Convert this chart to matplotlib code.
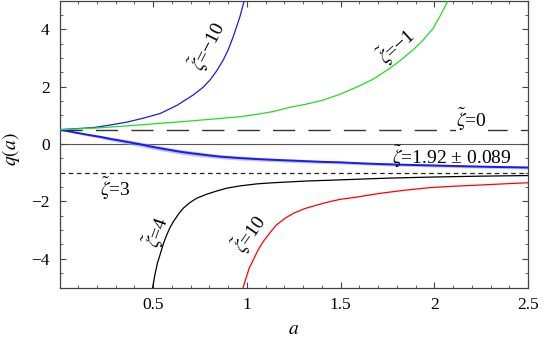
import numpy as np
import matplotlib
matplotlib.use("Agg")
import matplotlib.pyplot as plt
from matplotlib import font_manager as fm

_names = {f.name for f in fm.fontManager.ttflist}
_serif = [n for n in ['Liberation Serif', 'Tinos', 'Times New Roman', 'Nimbus Roman', 'DejaVu Serif'] if n in _names]
plt.rcParams['font.family'] = 'serif'
plt.rcParams['font.serif'] = _serif + ['DejaVu Serif']
plt.rcParams['mathtext.fontset'] = 'stix'
plt.rcParams['lines.scale_dashes'] = False

# ---- data ----
a_m10 = [0.0, 0.18, 0.269, 0.358, 0.447, 0.536, 0.625, 0.714, 0.767, 0.803, 0.838, 0.874, 0.900, 0.927, 0.945, 0.963, 0.986]
q_m10 = [0.5, 0.57, 0.66, 0.76, 0.90, 1.06, 1.34, 1.71, 1.98, 2.23, 2.54, 2.93, 3.28, 3.74, 4.09, 4.44, 5.0]

a_m1 = [0.0, 0.18, 0.358, 0.536, 0.714, 0.892, 0.963, 1.052, 1.140, 1.229, 1.318, 1.407, 1.496, 1.585,
        1.674, 1.763, 1.816, 1.887, 1.940, 1.994, 2.029, 2.074]
q_m1 = [0.5, 0.55, 0.63, 0.72, 0.81, 0.91, 0.95, 1.03, 1.13, 1.28, 1.39, 1.53, 1.73, 1.98,
        2.26, 2.64, 2.90, 3.28, 3.62, 4.03, 4.44, 5.0]

a_fit = [0.0, 0.05, 0.1, 0.16, 0.216, 0.27, 0.33, 0.38, 0.43, 0.48, 0.53, 0.59, 0.643, 0.7, 0.75, 0.8,
         0.856, 0.96, 1.069, 1.17, 1.283, 1.39, 1.496, 1.63, 1.763, 1.88, 2.0, 2.25, 2.5]
q_fit = [0.5, 0.44, 0.38, 0.31, 0.25, 0.18, 0.11, 0.05, -0.01, -0.08, -0.14, -0.21, -0.27, -0.32, -0.36, -0.40,
         -0.44, -0.49, -0.53, -0.56, -0.59, -0.62, -0.64, -0.68, -0.71, -0.73, -0.75, -0.79, -0.82]
d_fit = [0.0, 0.015, 0.03, 0.04, 0.05, 0.06, 0.07, 0.075, 0.08, 0.08, 0.08, 0.08, 0.08, 0.08, 0.08, 0.075,
         0.07, 0.07, 0.065, 0.06, 0.06, 0.055, 0.05, 0.05, 0.05, 0.05, 0.05, 0.05, 0.05]

a_4 = [0.497, 0.509, 0.522, 0.536, 0.554, 0.572, 0.589, 0.607, 0.634, 0.66, 0.696, 0.732, 0.785, 0.838,
       0.892, 0.963, 1.052, 1.14, 1.318, 1.496, 1.75, 2.0, 2.25, 2.5]
q_4 = [-5.0, -4.56, -4.16, -3.87, -3.48, -3.17, -2.92, -2.71, -2.45, -2.24, -2.04, -1.89, -1.75, -1.64,
       -1.54, -1.46, -1.39, -1.35, -1.29, -1.25, -1.19, -1.15, -1.12, -1.10]

a_10 = [0.98, 0.995, 1.012, 1.034, 1.06, 1.087, 1.123, 1.158, 1.203, 1.247, 1.309, 1.372, 1.434, 1.496,
        1.576, 1.709, 1.843, 1.976, 2.109, 2.243, 2.367, 2.5]
q_10 = [-5.0, -4.68, -4.33, -4.04, -3.69, -3.40, -3.09, -2.82, -2.59, -2.42, -2.25, -2.13, -2.02, -1.93,
        -1.86, -1.72, -1.61, -1.52, -1.47, -1.43, -1.39, -1.35]

q_zeta0 = 0.5
q_zeta3 = -1.0

xticks = [0.5, 1.0, 1.5, 2.0, 2.5]
xticklabels = ['0.5', '1', '1.5', '2', '2.5']
yticks = [-4, -2, 0, 2, 4]
yticklabels = ['\u22124', '\u22122', '0', '2', '4']

fig = plt.figure(figsize=(5.45, 3.37), dpi=100)
ax = fig.add_axes([59.5/545, 1 - 287.5/337, (528 - 59.5)/545, 287/337])
ax.set_xlim(0, 2.5)
ax.set_ylim(-5, 5)

frame_col = '#444444'
ax.axhline(0, color='#555555', lw=0.8, zorder=1)
ax.plot([0, 2.5], [q_zeta0, q_zeta0], color='#333333', lw=1.0, dashes=(16, 9.5), zorder=1)
ax.plot([0, 2.5], [q_zeta3, q_zeta3], color='#222222', lw=0.9, dashes=(3.3, 2.6), zorder=1)

qf = np.array(q_fit); df = np.array(d_fit)
ax.fill_between(a_fit, qf - df, qf + df, color='#9999ff', alpha=0.6, lw=0, zorder=2)
ax.plot(a_fit, q_fit, color='#1a1aee', lw=1.4, zorder=3)
ax.plot(a_m10, q_m10, color='#1a1aee', lw=0.9, zorder=3)
ax.plot(a_m1, q_m1, color='#22dd22', lw=0.9, zorder=3)
ax.plot(a_4, q_4, color='black', lw=0.9, zorder=3)
ax.plot(a_10, q_10, color='red', lw=0.9, zorder=3)

lf = 14
Z = r'$\tilde{\zeta}$'
ax.text(0.793, 3.41, Z + '=\u221210', rotation=63, fontsize=lf, ha='center', va='center')
ax.text(1.80, 3.41, Z + '=\u22121', rotation=42, fontsize=lf, ha='center', va='center')
ax.text(2.2, 0.84, Z + '=0', fontsize=lf, ha='center', va='center',
        bbox=dict(facecolor='white', edgecolor='none', pad=0.5), zorder=4)
ax.text(2.093, -0.43, Z + '=1.92 \u00b1 0.089', fontsize=lf, ha='center', va='center', zorder=4)
ax.text(0.30, -1.57, Z + '=3', fontsize=lf, ha='center', va='center')
ax.text(0.52, -3.07, Z + '=4', rotation=70, fontsize=lf, ha='center', va='center')
ax.text(1.016, -3.14, Z + '=10', rotation=55, fontsize=lf, ha='center', va='center')

ax.set_xticks(xticks)
ax.set_xticklabels(xticklabels)
ax.set_yticks(yticks)
ax.set_yticklabels(yticklabels)
ax.set_xticks(np.arange(0.1, 2.5, 0.1), minor=True)
ax.set_yticks(np.arange(-4.5, 5.0, 0.5), minor=True)
ax.tick_params(which='both', direction='in', top=True, right=True, colors=frame_col,
               labelcolor='black', labelsize=12.5, pad=7)
ax.tick_params(which='major', length=4.5, width=0.8)
ax.tick_params(which='minor', length=2.5, width=0.6)
for s in ax.spines.values():
    s.set_color(frame_col)
    s.set_linewidth(0.9)

ax.set_xlabel(r'$a$', fontsize=14)
ax.set_ylabel(r'$q(a)$', fontsize=14)
ax.xaxis.set_label_coords(0.5, -0.115)
ax.yaxis.set_label_coords(-0.08, 0.48)

fig.savefig('out.png', dpi=100)
